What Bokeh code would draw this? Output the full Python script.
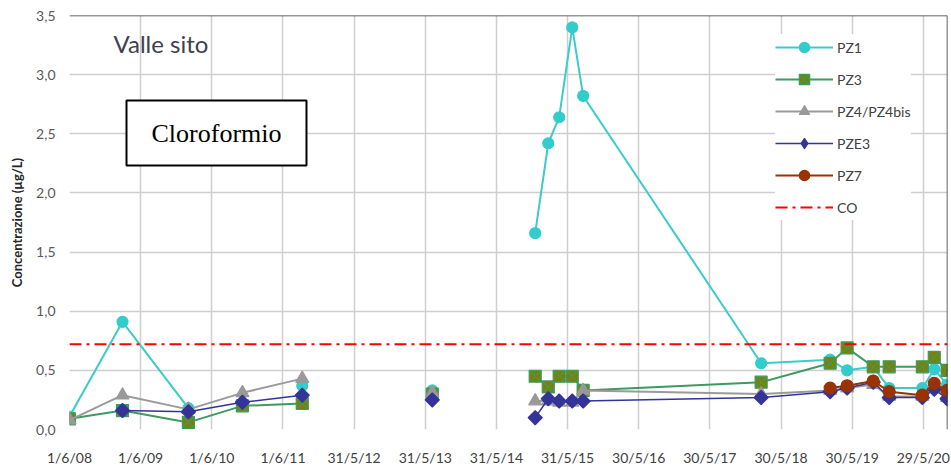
import math
import pandas as pd
from bokeh.plotting import figure
from bokeh.models import Range1d, FixedTicker, Label, Span, Legend, LegendItem
from bokeh.embed import file_html
from bokeh.resources import INLINE

NaN = float("nan")

# ---- data -------------------------------------------------------------
DATES = ["2008-06-01", "2009-02-28", "2010-02-01", "2010-11-05", "2011-09-08",
         "2012-07-01",
         "2013-07-06",
         "2014-01-15",
         "2014-12-16", "2015-02-21", "2015-04-18", "2015-06-24", "2015-08-19",
         "2018-02-17", "2019-02-06", "2019-05-04", "2019-09-15", "2019-12-06",
         "2020-05-24", "2020-07-24", "2020-09-28"]

PZ1 = [0.11, 0.91, 0.18, NaN, 0.37, NaN, 0.33, NaN,
       1.66, 2.42, 2.64, 3.40, 2.82,
       0.56, 0.59, 0.50, 0.53, 0.35, 0.35, 0.51, 0.38]
PZ3 = [0.09, 0.16, 0.06, 0.20, 0.22, NaN, 0.30, NaN,
       0.45, 0.36, 0.45, 0.45, 0.33,
       0.40, 0.56, 0.69, 0.53, 0.53, 0.53, 0.61, 0.50]
PZ4 = [0.08, 0.29, 0.17, 0.31, 0.43, NaN, 0.31, NaN,
       0.24, 0.24, 0.23, 0.23, 0.33,
       0.30, 0.33, 0.35, 0.38, 0.28, 0.28, 0.35, 0.27]
PZE3 = [NaN, 0.16, 0.15, 0.23, 0.29, NaN, 0.25, NaN,
        0.10, 0.26, 0.24, 0.24, 0.24,
        0.27, 0.32, 0.35, 0.40, 0.27, 0.27, 0.34, 0.26]
PZ7 = [NaN, NaN, NaN, NaN, NaN, NaN, NaN, NaN,
       NaN, NaN, NaN, NaN, NaN,
       NaN, 0.35, 0.37, 0.41, 0.32, 0.29, 0.39, 0.33]
CO_LIMIT = 0.72

X_START = "2008-06-01"
X_END = "2020-09-30"
X_TICK_LABELS = ["1/6/08", "1/6/09", "1/6/10", "1/6/11", "31/5/12", "31/5/13",
                 "31/5/14", "31/5/15", "30/5/16", "30/5/17", "30/5/18",
                 "30/5/19", "29/5/20"]
Y_MIN, Y_MAX = 0.0, 3.5
Y_TICKS = [0.0, 0.5, 1.0, 1.5, 2.0, 2.5, 3.0, 3.5]
Y_TICK_LABELS = ["0,0", "0,5", "1,0", "1,5", "2,0", "2,5", "3,0", "3,5"]

# ---- helpers ----------------------------------------------------------
origin = pd.Timestamp(X_START)
xs = [(pd.Timestamp(d) - origin).days for d in DATES]
x_end = (pd.Timestamp(X_END) - origin).days
x_ticks = [(pd.to_datetime(t, format="%d/%m/%y") - origin).days for t in X_TICK_LABELS]

FONT = "Lato"

p = figure(width=950, height=468,
           x_range=Range1d(0, x_end), y_range=Range1d(Y_MIN, Y_MAX),
           output_backend="svg", toolbar_location=None,
           min_border_left=69, min_border_right=3, min_border_top=15,
           min_border_bottom=38)
p.outline_line_color = None
p.background_fill_color = "white"
p.border_fill_color = "white"

# grid
p.xgrid.ticker = FixedTicker(ticks=x_ticks)
p.ygrid.ticker = FixedTicker(ticks=Y_TICKS)
for g in (p.xgrid, p.ygrid):
    g.grid_line_color = "#cfcfcf"
    g.grid_line_width = 1.5

# axes
xa = p.xaxis[0]
xa.ticker = FixedTicker(ticks=x_ticks)
xa.major_label_overrides = {t: l for t, l in zip(x_ticks, X_TICK_LABELS)}
xa.axis_line_color = None
xa.major_tick_line_color = None
xa.minor_tick_line_color = None
xa.major_label_standoff = 13
xa.major_label_text_font = FONT
xa.major_label_text_font_size = "14px"
xa.major_label_text_color = "#404040"

ya = p.yaxis[0]
ya.ticker = FixedTicker(ticks=Y_TICKS)
ya.major_label_overrides = {t: l for t, l in zip(Y_TICKS, Y_TICK_LABELS)}
ya.axis_line_color = None
ya.major_tick_line_color = None
ya.major_tick_out = 0
ya.minor_tick_line_color = None
ya.major_label_standoff = 14
ya.major_label_text_font = FONT
ya.major_label_text_font_size = "14px"
ya.major_label_text_color = "#595959"
ya.axis_label = "Concentrazione (µg/L)"
ya.axis_label_text_font = FONT
ya.axis_label_text_font_style = "bold"
ya.axis_label_text_font_size = "13px"
ya.axis_label_text_color = "#262626"
ya.axis_label_standoff = 8

# frame edges (top and right dark borders)
p.add_layout(Span(location=Y_MAX, dimension="width", line_color="#303030", line_width=1.5))
p.add_layout(Span(location=x_end, dimension="height", line_color="#303030", line_width=1.5))

items = []

def series(vals, label, line_color, marker, fill, mline, size, lw=2, angle=0.0,
           legend_marker=None):
    r1 = p.line(xs, vals, line_color=line_color, line_width=lw)
    r2 = p.scatter(xs, vals, marker=marker, size=size, fill_color=fill,
                   line_color=mline, line_width=1.2, angle=angle)
    rs = [r1, r2]
    if legend_marker is not None:
        # legend-only glyph (single undrawable point) so the key shows the right symbol
        r2b = p.scatter([NaN], [NaN], marker=legend_marker, size=size,
                        fill_color=fill, line_color=mline, line_width=1.2)
        rs = [r1, r2b]
    items.append(LegendItem(label=label, renderers=rs))

series(PZ1, "PZ1", "#3ccbcb", "circle", "#33cccc", "#33cccc", 11)
series(PZ3, "PZ3", "#3d9a62", "square_x", "#7f7f00", "#3d9a62", 12)
series(PZ4, "PZ4/PZ4bis", "#9a9a9a", "triangle", "#999999", "#999999", 13)
series(PZE3, "PZE3", "#333399", "square", "#333399", "#333399", 10, lw=1.5,
       angle=math.pi / 4, legend_marker="diamond")
series(PZ7, "PZ7", "#993300", "circle", "#993300", "#993300", 12)

co = p.line([0, x_end], [CO_LIMIT, CO_LIMIT], line_color="#ff0000",
            line_width=2, line_dash="12 5 3 5")
items.append(LegendItem(label="CO", renderers=[co]))

legend = Legend(items=items, location=(706, 209))
legend.border_line_color = None
legend.background_fill_color = "white"
legend.background_fill_alpha = 1.0
legend.glyph_width = 58
legend.glyph_height = 26
legend.label_standoff = 4
legend.spacing = 6
legend.padding = 6
legend.margin = 0
legend.label_text_font = FONT
legend.label_text_font_size = "14px"
legend.label_text_color = "#404040"
p.add_layout(legend)

# annotations
p.add_layout(Label(x=44, y=386, x_units="screen", y_units="screen",
                   text="Valle sito", text_font=FONT, text_font_size="24px",
                   text_color="#404050", text_baseline="middle", text_align="left"))
p.add_layout(Label(x=57, y=329, x_units="screen", y_units="screen",
                   text="Cloroformio", text_font="Liberation Serif",
                   text_font_size="26px", text_color="black",
                   anchor="top_left",
                   background_fill_color="white",
                   border_line_color="black", border_line_width=2,
                   padding=dict(left=25, right=25, top=18, bottom=18)))

open("out.html", "w").write(file_html(p, INLINE))
